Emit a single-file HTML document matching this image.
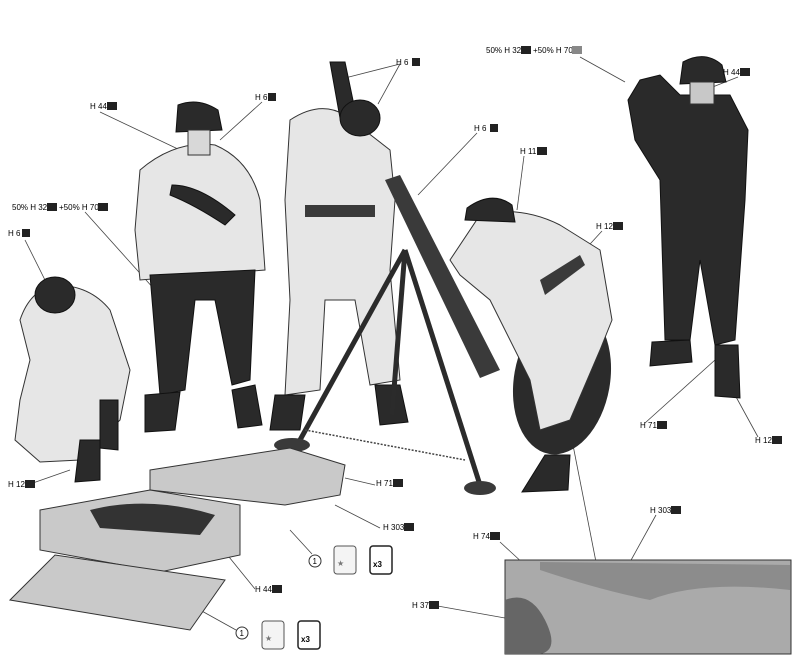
<!DOCTYPE html>
<html><head><meta charset="utf-8"><style>
html,body{margin:0;padding:0;background:#fff;width:800px;height:665px;overflow:hidden}
svg{display:block}
text{font-family:"Liberation Sans",sans-serif;font-size:8px}
.w{fill:#e6e6e6;stroke:#333;stroke-width:1}
.d{fill:#2a2a2a;stroke:#111;stroke-width:1}
.m{fill:#3a3a3a}
.l{stroke:#444;stroke-width:0.8;fill:none}
.b{fill:#c9c9c9;stroke:#333;stroke-width:1}
</style></head><body>
<svg width="800" height="665" viewBox="0 0 800 665">
<!-- leader lines -->
<g class="l">
<line x1="262" y1="102" x2="220" y2="140"/>
<line x1="100" y1="112" x2="180" y2="150"/>
<line x1="400" y1="64" x2="345" y2="78"/>
<line x1="400" y1="64" x2="378" y2="104"/>
<line x1="477" y1="133" x2="418" y2="195"/>
<line x1="524" y1="156" x2="517" y2="210"/>
<line x1="602" y1="231" x2="580" y2="255"/>
<line x1="580" y1="57" x2="625" y2="82"/>
<line x1="738" y1="77" x2="705" y2="90"/>
<line x1="85" y1="212" x2="155" y2="290"/>
<line x1="25" y1="240" x2="45" y2="280"/>
<line x1="30" y1="484" x2="70" y2="470"/>
<line x1="375" y1="485" x2="345" y2="478"/>
<line x1="380" y1="528" x2="335" y2="505"/>
<line x1="255" y1="589" x2="225" y2="552"/>
<line x1="312" y1="554" x2="290" y2="530"/>
<line x1="236" y1="630" x2="200" y2="610"/>
<line x1="645" y1="423" x2="715" y2="360"/>
<line x1="758" y1="437" x2="735" y2="395"/>
<line x1="500" y1="542" x2="525" y2="565"/>
<line x1="656" y1="515" x2="630" y2="562"/>
<line x1="432" y1="605" x2="505" y2="618"/>
<line x1="596" y1="562" x2="572" y2="440"/>
</g>
<!-- texture panel -->
<rect x="505" y="560" width="286" height="94" fill="#aaa" stroke="#333"/>
<path d="M505 600 Q530 590 545 620 Q560 650 540 654 L505 654Z" fill="#666"/>
<path d="M540 570 Q600 590 650 600 Q700 580 790 590 L790 565 L540 562Z" fill="#8c8c8c"/>
<!-- figure 1 kneeling -->
<path class="w" d="M20 320 Q30 290 55 285 Q90 285 110 310 L130 370 L120 420 L100 440 L80 460 L40 462 L15 440 L20 400 L30 360Z"/>
<ellipse cx="55" cy="295" rx="20" ry="18" class="d"/>
<path class="d" d="M80 440 L100 440 L100 480 L75 482Z"/>
<path class="d" d="M100 400 L118 400 L118 450 L100 448Z"/>
<!-- figure 2 -->
<path class="w" d="M140 170 Q175 140 215 145 Q250 160 260 200 L265 270 L140 280 L135 230Z"/>
<path class="d" d="M150 275 L255 270 L250 380 L232 385 L215 300 L195 300 L185 390 L160 395Z"/>
<path class="d" d="M145 395 L180 392 L175 430 L145 432Z"/>
<path class="d" d="M232 390 L255 385 L262 425 L238 428Z"/>
<path class="d" d="M178 105 Q198 97 218 110 L222 130 L176 132Z"/>
<rect x="188" y="130" width="22" height="25" fill="#d8d8d8" stroke="#333"/>
<path class="d" d="M172 185 Q200 185 235 215 L225 225 Q195 205 170 195Z"/>
<!-- figure 3 -->
<path class="w" d="M290 120 Q320 100 345 115 L390 150 L395 200 L390 270 L400 380 L370 385 L355 300 L325 300 L320 390 L285 395 L290 300 L285 200Z"/>
<rect x="305" y="205" width="70" height="12" class="m"/>
<path class="d" d="M330 62 L345 62 L355 110 L340 118Z"/>
<ellipse cx="360" cy="118" rx="20" ry="18" class="d"/>
<path class="d" d="M275 395 L305 395 L300 430 L270 430Z"/>
<path class="d" d="M375 385 L400 385 L408 422 L380 425Z"/>
<!-- mortar -->
<path class="m" d="M385 180 L400 175 L500 370 L480 378Z"/>
<ellipse cx="562" cy="380" rx="48" ry="75" fill="#2b2b2b" transform="rotate(10 562 380)"/>
<g stroke="#2b2b2b" stroke-width="5" fill="none">
<line x1="405" y1="250" x2="300" y2="440"/>
<line x1="405" y1="250" x2="480" y2="485"/>
<line x1="405" y1="250" x2="392" y2="415"/>
</g>
<ellipse cx="292" cy="445" rx="18" ry="7" class="m"/>
<ellipse cx="480" cy="488" rx="16" ry="7" class="m"/>
<path d="M305 430 L465 460" stroke="#444" stroke-dasharray="2 1.5" stroke-width="1.5"/>
<!-- figure 4 -->
<path class="w" d="M480 215 Q520 205 560 225 L600 250 L612 320 L600 350 L570 420 L540 430 L530 380 L490 300 L460 275 L450 260Z"/>
<path class="d" d="M467 208 Q492 190 512 205 L515 222 L465 220Z"/>
<path class="m" d="M540 280 L580 255 L585 265 L545 295Z"/>
<path class="d" d="M545 455 L570 455 L568 490 L522 492Z"/>
<!-- figure 5 dark -->
<path class="d" d="M640 80 L660 75 L680 95 L730 95 L748 130 L745 200 L735 340 L715 345 L700 260 L690 340 L665 340 L660 180 L635 140 L628 100Z"/>
<path class="d" d="M683 62 Q705 50 722 65 L726 82 L680 84Z"/>
<rect x="690" y="82" width="24" height="22" fill="#c8c8c8" stroke="#333"/>
<path class="d" d="M652 342 L690 340 L692 362 L650 366Z"/>
<path class="d" d="M715 345 L738 345 L740 398 L715 396Z"/>
<!-- boxes -->
<path class="b" d="M150 470 L290 448 L345 465 L340 495 L285 505 L150 490Z"/>
<path class="b" d="M40 510 L150 490 L240 505 L240 555 L160 572 L40 550Z"/>
<path d="M90 510 Q150 495 215 515 L200 535 L100 528Z" fill="#333"/>
<path class="b" d="M10 600 L55 555 L225 580 L190 630Z"/>
<!-- icons -->
<circle cx="315" cy="561" r="6" fill="none" stroke="#333"/>
<text x="312.5" y="564">1</text>
<rect x="334" y="546" width="22" height="28" rx="3" fill="#f4f4f4" stroke="#555"/>
<text x="337" y="566" font-size="16" fill="#777">★</text>
<rect x="370" y="546" width="22" height="28" rx="3" fill="#fff" stroke="#222" stroke-width="1.5"/>
<text x="373" y="567" font-size="18" font-weight="bold">x3</text>
<circle cx="242" cy="633" r="6" fill="none" stroke="#333"/>
<text x="239.5" y="636">1</text>
<rect x="262" y="621" width="22" height="28" rx="3" fill="#f4f4f4" stroke="#555"/>
<text x="265" y="641" font-size="16" fill="#777">★</text>
<rect x="298" y="621" width="22" height="28" rx="3" fill="#fff" stroke="#222" stroke-width="1.5"/>
<text x="301" y="642" font-size="18" font-weight="bold">x3</text>
<!-- labels -->
<g>
<text x="255" y="100">H <tspan>6</tspan></text><rect x="268" y="93" width="8" height="8" fill="#222"/>
<text x="90" y="109">H 44</text><rect x="107" y="102" width="10" height="8" fill="#222"/>
<text x="396" y="65">H 6</text><rect x="412" y="58" width="8" height="8" fill="#222"/>
<text x="474" y="131">H 6</text><rect x="490" y="124" width="8" height="8" fill="#222"/>
<text x="520" y="154">H 11</text><rect x="537" y="147" width="10" height="8" fill="#222"/>
<text x="596" y="229">H 12</text><rect x="613" y="222" width="10" height="8" fill="#222"/>
<text x="486" y="53">50% H 32</text><rect x="521" y="46" width="10" height="8" fill="#222"/><text x="533" y="53">+50% H 70</text><rect x="572" y="46" width="10" height="8" fill="#888"/>
<text x="723" y="75">H 44</text><rect x="740" y="68" width="10" height="8" fill="#222"/>
<text x="12" y="210">50% H 32</text><rect x="47" y="203" width="10" height="8" fill="#222"/><text x="59" y="210">+50% H 70</text><rect x="98" y="203" width="10" height="8" fill="#222"/>
<text x="8" y="236">H 6</text><rect x="22" y="229" width="8" height="8" fill="#222"/>
<text x="8" y="487">H 12</text><rect x="25" y="480" width="10" height="8" fill="#222"/>
<text x="376" y="486">H 71</text><rect x="393" y="479" width="10" height="8" fill="#222"/>
<text x="383" y="530">H 303</text><rect x="404" y="523" width="10" height="8" fill="#222"/>
<text x="255" y="592">H 44</text><rect x="272" y="585" width="10" height="8" fill="#222"/>
<text x="640" y="428">H 71</text><rect x="657" y="421" width="10" height="8" fill="#222"/>
<text x="755" y="443">H 12</text><rect x="772" y="436" width="10" height="8" fill="#222"/>
<text x="473" y="539">H 74</text><rect x="490" y="532" width="10" height="8" fill="#222"/>
<text x="650" y="513">H 303</text><rect x="671" y="506" width="10" height="8" fill="#222"/>
<text x="412" y="608">H 37</text><rect x="429" y="601" width="10" height="8" fill="#222"/>
</g>
</svg>
</body></html>
